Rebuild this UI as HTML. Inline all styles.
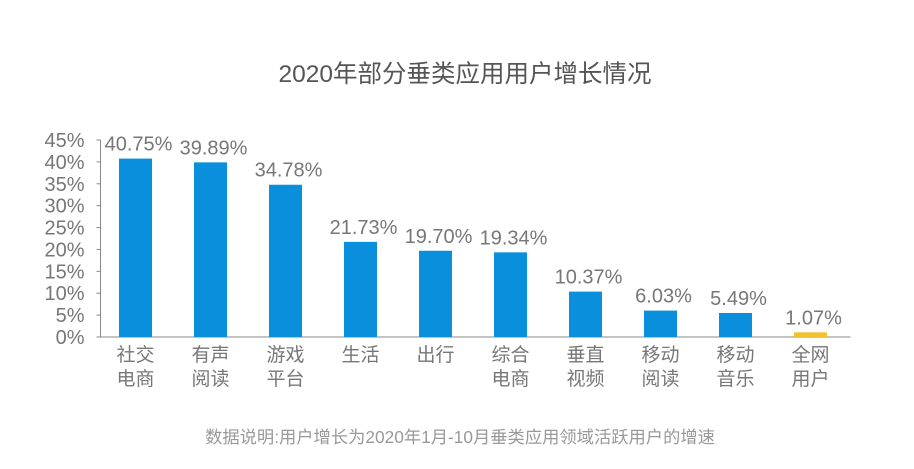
<!DOCTYPE html>
<html><head><meta charset="utf-8">
<style>
body{margin:0;background:#fff;width:914px;height:464px;overflow:hidden;font-family:"Liberation Sans","Noto Sans CJK SC",sans-serif;}
</style></head>
<body>
<svg id="chart" width="914" height="464" xmlns="http://www.w3.org/2000/svg" font-family="Liberation Sans, Noto Sans CJK SC, sans-serif">
<text x="465" y="82" text-anchor="middle" font-size="24.5" fill="#555">2020年部分垂类应用用户增长情况</text>
<text x="460" y="443" text-anchor="middle" font-size="17.3" fill="#999">数据说明:用户增长为2020年1月-10月垂类应用领域活跃用户的增速</text>
<g id="axes"></g><g id="bars"></g>
</svg>
<script>
const categories=[["社交","电商"],["有声","阅读"],["游戏","平台"],["生活",""],["出行",""],["综合","电商"],["垂直","视频"],["移动","阅读"],["移动","音乐"],["全网","用户"]];
const values=[40.75,39.89,34.78,21.73,19.70,19.34,10.37,6.03,5.49,1.07];
const labels=["40.75%","39.89%","34.78%","21.73%","19.70%","19.34%","10.37%","6.03%","5.49%","1.07%"];
const ticks=[0,5,10,15,20,25,30,35,40,45];
const NS="http://www.w3.org/2000/svg";
const x0=100.5,y0=337,pxPer=197/45,band=75,bw=33;
const y=v=>y0-v*pxPer;
const xc=i=>x0+35+band*i;
function mk(t,a,p){const e=document.createElementNS(NS,t);for(const k in a)e.setAttribute(k,a[k]);p.appendChild(e);return e;}
const ax=document.getElementById('axes'),bg=document.getElementById('bars');
const yl=mk('line',{x1:x0,y1:y(45),x2:x0,y2:y0,stroke:'#888','stroke-width':1},ax);


const xl=mk('line',{x1:x0-4,y1:y0,x2:x0+band*10,y2:y0,stroke:'#888','stroke-width':1},ax);


ticks.forEach(t=>{
 const tk=mk('line',{x1:x0-4,y1:y(t),x2:x0,y2:y(t),stroke:'#888'},ax);
 
 
 const tx=mk('text',{x:x0-16,y:y(t)+7,'text-anchor':'end','font-size':20,fill:'#777'},ax);
 tx.textContent=t+'%';
 
 
});
values.forEach((v,i)=>{
 const last=i===values.length-1;
 const r=mk('rect',{x:xc(i)-bw/2,y:y(v),width:bw,height:y0-y(v),fill:last?'#f2c12e':'#0a8fdc'},bg);
 
 
 const t=mk('text',{x:xc(i)+3,y:y(v)-8,'text-anchor':'middle','font-size':20,fill:'#777'},bg);
 t.textContent=labels[i];
 
 
 categories[i].forEach((c,j)=>{
  if(!c)return;
  const ct=mk('text',{x:xc(i),y:y0+24+j*24,'text-anchor':'middle','font-size':19,fill:'#777'},bg);
  ct.textContent=c;
  
  
 });
});
</script>
</body></html>
